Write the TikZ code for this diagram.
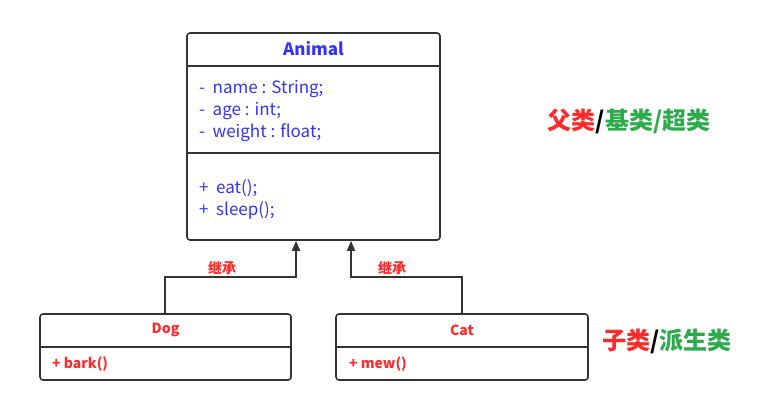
\documentclass[tikz,border=0pt]{standalone}
\usepackage{fontspec}
\setmainfont{Noto Sans CJK SC}
\usepackage{xcolor}
\usetikzlibrary{arrows.meta,positioning,calc}

\definecolor{boxgray}{HTML}{333333}
\definecolor{animblue}{HTML}{3333FF}
\definecolor{subred}{HTML}{FF2A2A}
\definecolor{namegreen}{HTML}{2DAA4B}

\tikzset{
  classbox/.style={draw=boxgray,line width=1.6pt,rounded corners=3pt,inner sep=0pt},
  sepline/.style={draw=boxgray,line width=1.6pt},
  inherit/.style={draw=boxgray,line width=1.6pt,-{Triangle[width=8pt,length=10pt]}},
  membertext/.style={text=animblue,font=\fontsize{17}{22}\selectfont,align=left,anchor=west,inner sep=0pt},
  subtext/.style={text=subred,font=\bfseries\fontsize{14}{16}\selectfont,inner sep=0pt},
  tag/.style={font=\bfseries\fontsize{24}{26}\selectfont,inner sep=0pt}
}

\begin{document}
\begin{tikzpicture}[x=1pt,y=-1pt]
\useasboundingbox (0,0) rectangle (767,404);

% parent class
\node[classbox,minimum width=253pt,minimum height=207pt] (animal) at (313.5,136.5) {};
\draw[sepline] (animal.west |- 0,66) -- (animal.east |- 0,66);
\draw[sepline] (animal.west |- 0,153) -- (animal.east |- 0,153);
\node[text=animblue,font=\bfseries\fontsize{17}{19}\selectfont,inner sep=0pt] (animaltitle) at (313.5,49) {Animal};
\node[membertext] (animalattr) at (199,111) {-\ \ name : String;\\-\ \ age : int;\\-\ \ weight : float;};
\node[membertext] (animalops) at (199,199) {+\ \ eat();\\+\ \ sleep();};

% sub classes
\node[classbox,minimum width=251pt,minimum height=66pt] (dog) at (165.5,347) {};
\draw[sepline] (dog.west |- 0,347) -- (dog.east |- 0,347);
\node[subtext] (dogtitle) at (165.5,330) {Dog};
\node[subtext,anchor=west] (dogops) at (52,364) {+ bark()};

\node[classbox,minimum width=252pt,minimum height=66pt] (cat) at (462,347) {};
\draw[sepline] (cat.west |- 0,347) -- (cat.east |- 0,347);
\node[subtext] (cattitle) at (462,330) {Cat};
\node[subtext,anchor=west] (catops) at (349,364) {+ mew()};

% inheritance
\coordinate (dogbend) at (165,277);
\coordinate (catbend) at (462,277);
\draw[inherit] (dog.north -| dogbend) -- (dogbend) -- (dogbend -| 296,0) -- (animal.south -| 296,0);
\draw[inherit] (cat.north) -- (catbend) -- (catbend -| 351,0) -- (animal.south -| 351,0);
\node[subtext,font=\bfseries\fontsize{14}{16}\selectfont] (doglabel) at (222,268) {继承};
\node[subtext,font=\bfseries\fontsize{14}{16}\selectfont] (catlabel) at (392,268) {继承};

% naming
\node[tag] (parentname) at (629,121) {\textcolor{subred}{父类}/\textcolor{namegreen}{基类/超类}};
\node[tag] (childname) at (667,341) {\textcolor{subred}{子类}/\textcolor{namegreen}{派生类}};
\end{tikzpicture}
\end{document}
